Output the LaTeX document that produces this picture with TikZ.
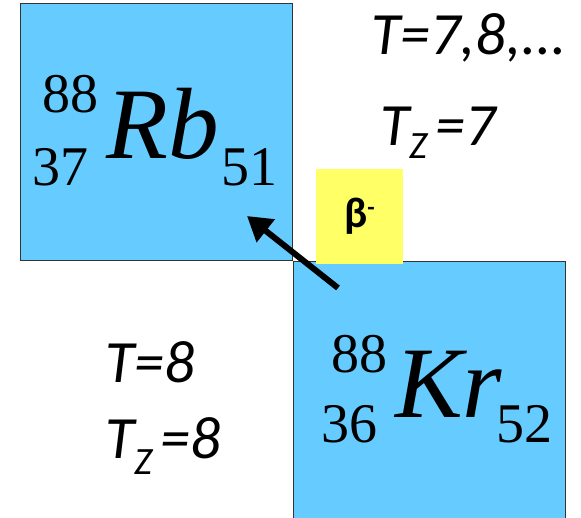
\documentclass[tikz,border=0pt]{standalone}
\usepackage{fontspec}
\setmainfont{Liberation Serif}
\newfontfamily\labelfont{Carlito}
\usetikzlibrary{arrows.meta,positioning}

\definecolor{nuclblue}{HTML}{66CCFF}
\definecolor{decayyellow}{HTML}{FFFF66}

\begin{document}
\begin{tikzpicture}[
  x=0.75pt, y=-0.75pt,
  nuclbox/.style={fill=nuclblue, draw=black!80, line width=0.9pt,
    minimum width=204pt, minimum height=192.75pt, inner sep=0pt, anchor=north west},
  element/.style={font=\fontsize{76}{80}\selectfont\itshape, inner sep=0pt, anchor=base west},
  index/.style={font=\fontsize{42}{44}\selectfont, inner sep=0pt, anchor=base west},
  isospin/.style={font=\labelfont\fontsize{45}{50}\selectfont\itshape, inner sep=0pt, anchor=base west},
  decaylabel/.style={fill=decayyellow, minimum width=65.25pt, minimum height=71.25pt,
    font=\labelfont\bfseries\fontsize{32}{34}\selectfont},
  decay/.style={-{Triangle[length=18pt,width=21pt]}, line width=4.5pt, black}
]
\useasboundingbox (0,0) rectangle (581,517);

% Nuclide boxes
\node[nuclbox] (rb) at (20,3) {};
\node[nuclbox] (kr) at (rb.south east) {};

% Rubidium
\node[element] (rb sym) at (106,158) {Rb};
\node[index] (rb A) at (42,112) {88};
\node[index] (rb Z) at (32,185) {37};
\node[index] (rb N) at (221,185) {51};

% Krypton
\node[element] (kr sym) at (395,417) {Kr};
\node[index] (kr A) at (331,372) {88};
\node[index] (kr Z) at (321,442) {36};
\node[index] (kr N) at (496,442) {52};

% Isospin labels
\node[isospin] (t rb) at (371,55) {T=7,8,...};
\node[isospin] (tz rb) at (380,145) {T\raisebox{-10pt}{\fontsize{29}{30}\selectfont Z}\kern6pt=7};
\node[isospin] (t kr) at (105,382) {T=8};
\node[isospin] (tz kr) at (105,458) {T\raisebox{-12pt}{\fontsize{29}{30}\selectfont Z}\kern6pt=8};

% Beta decay
\node[decaylabel] (beta) at (359.5,216.5) {β\raisebox{9pt}{\fontsize{18}{18}\selectfont -}};
\coordinate (decay start) at (338,288);
\coordinate (decay end) at (247,216);
\draw[decay] (decay start) -- (decay end);

\end{tikzpicture}
\end{document}
